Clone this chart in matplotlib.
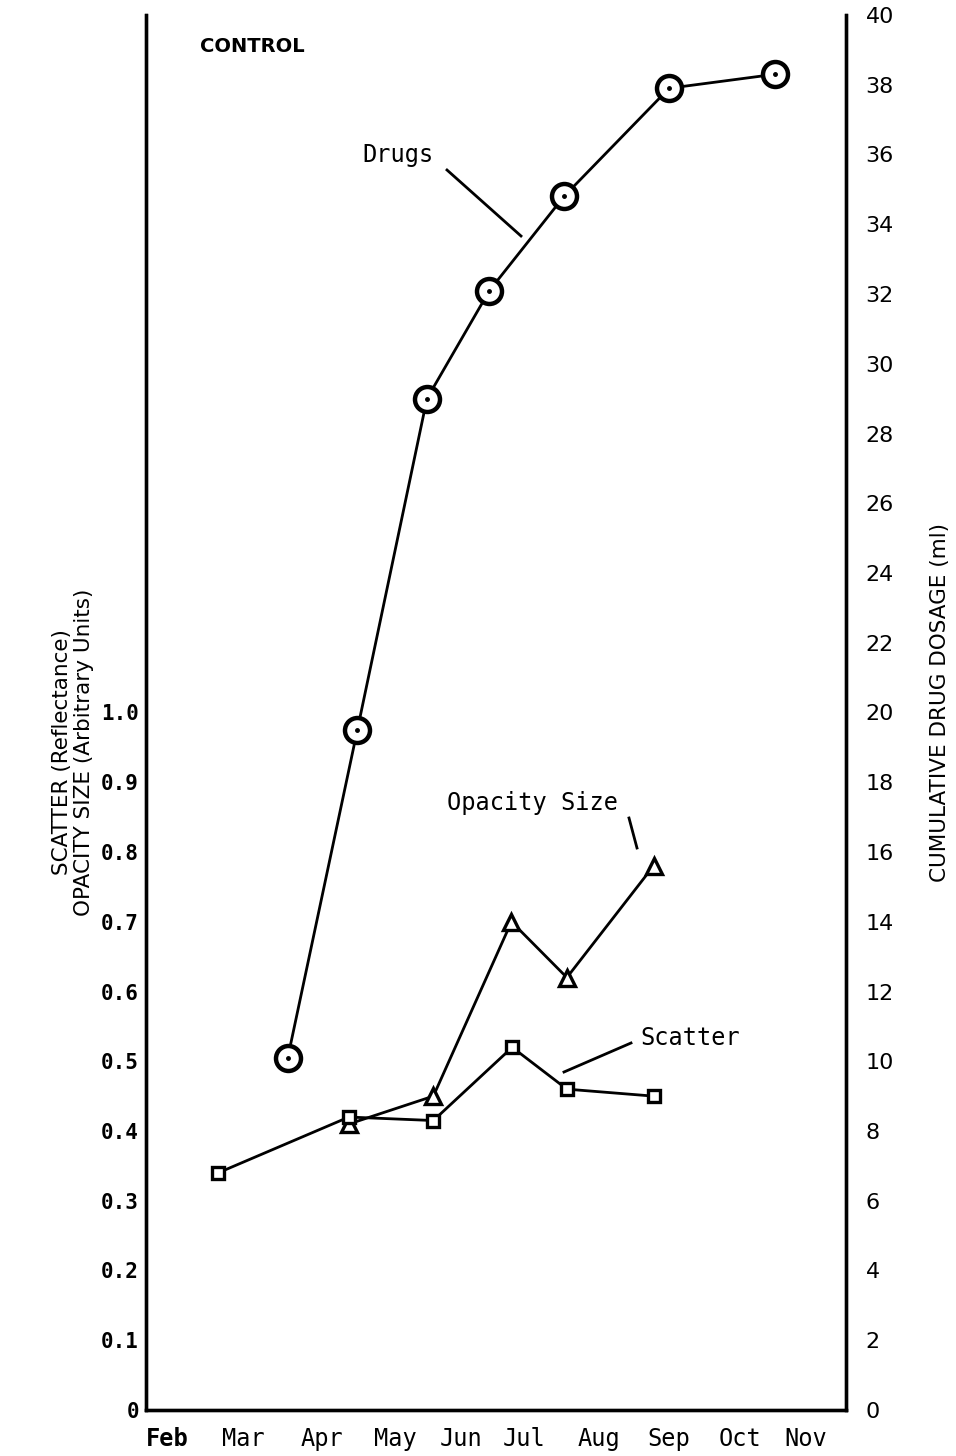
import matplotlib
matplotlib.use("Agg")
import matplotlib.pyplot as plt

# Month axis: positions in month units (Feb = 2 ... Nov = 11)
month_labels = ["Feb", "Mar", "Apr", "May", "Jun", "Jul", "Aug", "Sep", "Oct", "Nov"]
month_pos = [2.0, 3.08, 4.18, 5.21, 6.14, 7.03, 8.08, 9.06, 10.07, 11.0]

# Cumulative drug dosage (ml), right axis
drug_x = [3.70, 4.68, 5.66, 6.54, 7.59, 9.07, 10.56]
drug_y = [10.1, 19.5, 29.0, 32.1, 34.8, 37.9, 38.3]

# Opacity size (arbitrary units), left axis
opac_x = [4.56, 5.75, 6.85, 7.63, 8.85]
opac_y = [0.41, 0.45, 0.70, 0.62, 0.78]

# Scatter (reflectance), left axis
scat_x = [2.72, 4.56, 5.75, 6.86, 7.63, 8.85]
scat_y = [0.34, 0.42, 0.415, 0.52, 0.46, 0.45]

left_ticks = [0, 0.1, 0.2, 0.3, 0.4, 0.5, 0.6, 0.7, 0.8, 0.9, 1.0]
left_tick_labels = ["0", "0.1", "0.2", "0.3", "0.4", "0.5", "0.6", "0.7", "0.8", "0.9", "1.0"]
right_ticks = list(range(0, 41, 2))

W, H = 956, 1456
fig = plt.figure(figsize=(W / 100, H / 100), dpi=100)
ax = fig.add_axes([146 / W, 1 - 1410 / H, (846 - 146) / W, (1410 - 15) / H])
ax2 = ax.twinx()

mono = "DejaVu Sans Mono"
sans = "DejaVu Sans"
lw = 2.0

ax.set_xlim(1.704, 11.56)
ax.set_ylim(0, 2.0)
ax2.set_ylim(0, 40)

for a in (ax, ax2):
    a.spines["top"].set_visible(False)
    for s in ("left", "right", "bottom"):
        a.spines[s].set_linewidth(2.4)

# Series
ax.plot(scat_x, scat_y, color="black", lw=lw, marker="s", ms=9,
        mfc="white", mec="black", mew=2.4, zorder=4)
ax.plot(opac_x, opac_y, color="black", lw=lw, marker="^", ms=12,
        mfc="white", mec="black", mew=2.4, zorder=3)
ax2.plot(drug_x, drug_y, color="black", lw=lw, marker="o", ms=18,
         mfc="white", mec="black", mew=3.2, zorder=3)
ax2.plot(drug_x, drug_y, ls="none", marker="o", ms=2.5, color="black", zorder=4)

# Ticks
ax.set_xticks(month_pos)
ax.set_xticklabels(month_labels, fontfamily=mono, fontsize=17)
ax.get_xticklabels()[0].set_fontweight("bold")
ax.tick_params(axis="x", length=0, pad=12)

ax.set_yticks(left_ticks)
ax.set_yticklabels(left_tick_labels, fontfamily=mono, fontsize=15, fontweight="bold")
ax.tick_params(axis="y", length=0, pad=5)

ax2.set_yticks(right_ticks)
ax2.set_yticklabels([str(t) for t in right_ticks], fontfamily=sans, fontsize=16)
ax2.tick_params(axis="y", length=0, pad=14)

# Axis titles
fig.text(62 / W, 1 - 752 / H, "SCATTER (Reflectance)", rotation=90,
         ha="center", va="center", fontfamily=sans, fontsize=15.5)
fig.text(84 / W, 1 - 752 / H, "OPACITY SIZE (Arbitrary Units)", rotation=90,
         ha="center", va="center", fontfamily=sans, fontsize=15.5)
fig.text(940 / W, 1 - 702 / H, "CUMULATIVE DRUG DOSAGE (ml)", rotation=90,
         ha="center", va="center", fontfamily=sans, fontsize=15.5)

# In-plot labels and pointers (axes-fraction coordinates from figure pixels)
def fx(px):
    return (px - 146) / (846 - 146)

def fy(py):
    return (1410 - py) / (1410 - 15)

ax.text(fx(200), fy(47), "CONTROL", transform=ax.transAxes, ha="left",
        va="center", fontfamily=sans, fontsize=14, fontweight="bold")
ax.text(fx(362), fy(155), "Drugs", transform=ax.transAxes, ha="left",
        va="center", fontfamily=mono, fontsize=17)
ax.plot([fx(447), fx(521)], [fy(170), fy(236)], transform=ax.transAxes,
        color="black", lw=lw)
ax.text(fx(447), fy(803), "Opacity Size", transform=ax.transAxes, ha="left",
        va="center", fontfamily=mono, fontsize=17)
ax.plot([fx(629), fx(637)], [fy(818), fy(848)], transform=ax.transAxes,
        color="black", lw=lw)
ax.text(fx(640), fy(1038), "Scatter", transform=ax.transAxes, ha="left",
        va="center", fontfamily=mono, fontsize=17)
ax.plot([fx(631), fx(564)], [fy(1043), fy(1072)], transform=ax.transAxes,
        color="black", lw=lw)

fig.savefig("out.png", dpi=100, facecolor="white")
